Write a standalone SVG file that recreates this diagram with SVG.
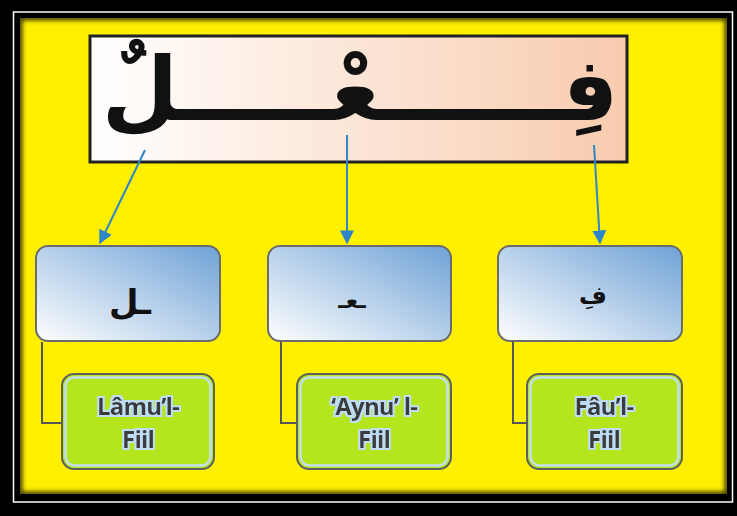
<svg xmlns="http://www.w3.org/2000/svg" width="737" height="516" viewBox="0 0 737 516">
<defs>
<linearGradient id="peach" x1="0" y1="0" x2="1" y2="0">
<stop offset="0" stop-color="#FFFFFF"/><stop offset="1" stop-color="#F8CBAE"/>
</linearGradient>
<linearGradient id="blue" x1="0" y1="1" x2="1" y2="0">
<stop offset="0" stop-color="#FFFFFF"/><stop offset="1" stop-color="#6FA2D6"/>
</linearGradient>
<marker id="ah" viewBox="0 0 10 10" refX="9" refY="5" markerWidth="7" markerHeight="7" orient="auto" markerUnits="strokeWidth">
<path d="M0,0 L10,5 L0,10 z" fill="#2E85C8"/>
</marker>
<filter id="blur" x="-5%" y="-5%" width="110%" height="110%"><feGaussianBlur stdDeviation="2"/></filter>
<filter id="halo" x="-20%" y="-20%" width="140%" height="140%">
<feMorphology in="SourceAlpha" operator="dilate" radius="1.5" result="d"/>
<feFlood flood-color="#BFDDF5"/><feComposite in2="d" operator="in" result="h"/>
<feMerge><feMergeNode in="h"/><feMergeNode in="SourceGraphic"/></feMerge>
</filter>
<clipPath id="yclip"><rect x="20" y="18" width="707" height="476"/></clipPath>
</defs>
<style>
.bluebox{fill:url(#blue);stroke:#6B6B6B;stroke-width:2}
.greenbox{fill:#B5E51D;stroke:#5E5E5E;stroke-width:2}
.greeninner{fill:none;stroke:#C3DDF2;stroke-width:2.5}
.lbl{font-family:"Open Sans","Liberation Sans",sans-serif;font-weight:bold;font-size:24px;fill:#3A3A3A;text-anchor:middle;letter-spacing:-0.8px}
.ar{font-family:"DejaVu Sans",sans-serif;font-weight:bold;fill:#111;text-anchor:middle}
.conn{fill:none;stroke:#555;stroke-width:2}
.arrow{stroke:#2E85C8;stroke-width:2;marker-end:url(#ah)}
</style>
<rect x="0" y="0" width="737" height="516" fill="#000"/>
<rect x="13.5" y="12" width="719" height="490" fill="none" stroke="#FFFFFF" stroke-width="1.5"/>
<rect x="20" y="18" width="707" height="476" fill="#FFF000"/>
<g clip-path="url(#yclip)">
<rect x="20" y="18" width="707" height="476" fill="none" stroke="#3A3500" stroke-width="5" filter="url(#blur)"/>
</g>
<g id="root">
<rect x="90" y="36" width="537" height="126" fill="url(#peach)" stroke="#222" stroke-width="3"/>
<text class="ar" x="360" y="120" font-size="88" direction="rtl">فِــــــعْـــــلٌ</text>
</g>
<g id="connectors">
<line class="arrow" x1="145" y1="150" x2="100" y2="243"/>
<line class="arrow" x1="347" y1="135" x2="347" y2="243"/>
<line class="arrow" x1="594" y1="145" x2="600" y2="243"/>
<polyline class="conn" points="42,342 42,423 63,423"/>
<polyline class="conn" points="281,342 281,423 297,423"/>
<polyline class="conn" points="513,342 513,423 527,423"/>
</g>
<g id="lam">
<rect class="bluebox" x="36" y="246" width="184" height="95" rx="12"/>
<text class="ar" x="130" y="314" font-size="34">ـل</text>
</g>
<g id="ayn">
<rect class="bluebox" x="268" y="246" width="183" height="95" rx="12"/>
<text class="ar" x="352" y="308" font-size="22">ـعـ</text>
</g>
<g id="fa">
<rect class="bluebox" x="498" y="246" width="184" height="95" rx="12"/>
<text class="ar" x="593" y="304" font-size="24">فِ</text>
</g>
<g id="lamul">
<rect class="greenbox" x="62" y="374" width="152" height="95" rx="12"/>
<rect class="greeninner" x="65.5" y="377.5" width="145" height="88" rx="9"/>
<g filter="url(#halo)"><text class="lbl" x="138" y="415">Lâmu’l-</text><text class="lbl" x="138" y="448">Fiil</text></g>
</g>
<g id="aynul">
<rect class="greenbox" x="297" y="374" width="154" height="95" rx="12"/>
<rect class="greeninner" x="300.5" y="377.5" width="147" height="88" rx="9"/>
<g filter="url(#halo)"><text class="lbl" x="374" y="415">‘Aynu’ l-</text><text class="lbl" x="374" y="448">Fiil</text></g>
</g>
<g id="faul">
<rect class="greenbox" x="527" y="374" width="155" height="95" rx="12"/>
<rect class="greeninner" x="530.5" y="377.5" width="148" height="88" rx="9"/>
<g filter="url(#halo)"><text class="lbl" x="604" y="415">Fâu’l-</text><text class="lbl" x="604" y="448">Fiil</text></g>
</g>
</svg>
